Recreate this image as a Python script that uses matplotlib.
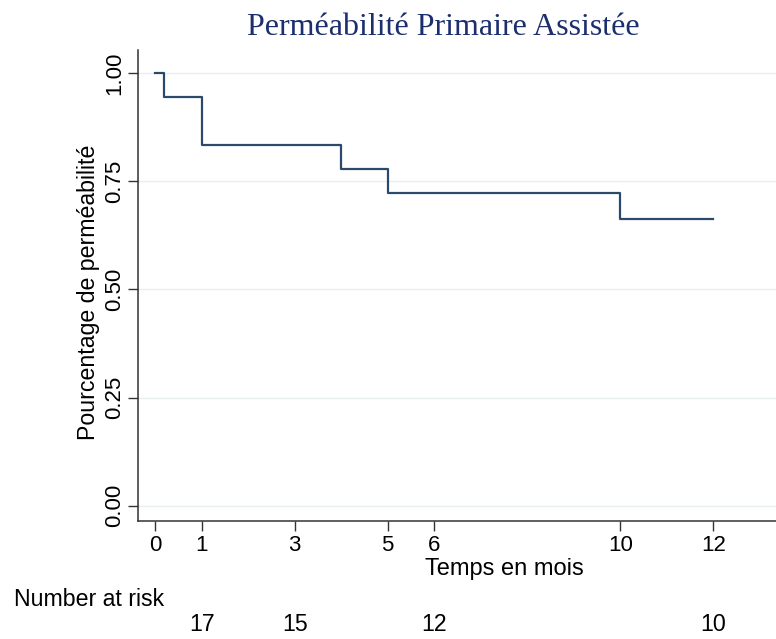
import matplotlib
matplotlib.use('Agg')
import matplotlib.pyplot as plt
import matplotlib.transforms as mtransforms

# survival curve (Kaplan-Meier steps)
times = [0, 0.2, 1, 4, 5, 10, 12]
surv = [1.0, 0.944, 0.833, 0.778, 0.722, 0.662, 0.662]

xticks = [0, 1, 3, 5, 6, 10, 12]
yticks = [0.0, 0.25, 0.50, 0.75, 1.00]

risk_times = [1, 3, 6, 12]
risk_counts = [17, 15, 12, 10]

plt.rcParams['font.family'] = ['Liberation Sans', 'DejaVu Sans']

fig = plt.figure(figsize=(7.76, 6.39), dpi=100)
ax = fig.add_axes([0.1778, 0.1847, 0.8222, 0.7371])

ax.step(times, surv, where='post', color='#2b4a6b', lw=1.6)

ax.set_xlim(-0.37, 13.35)
ax.set_ylim(-0.035, 1.053)
ax.set_xticks(xticks)
ax.set_yticks(yticks)
ax.set_yticklabels(['%.2f' % v for v in yticks], rotation=90, va='center')
ax.tick_params(axis='both', labelsize=16, length=7, width=1, color='#333333')
ax.tick_params(axis='x', pad=3)
ax.tick_params(axis='y', pad=2)

ax.grid(axis='y', color='#e8eff0', lw=1)
ax.set_axisbelow(True)
for s in ['top', 'right']:
    ax.spines[s].set_visible(False)
for s in ['left', 'bottom']:
    ax.spines[s].set_color('#333333')
    ax.spines[s].set_linewidth(1.1)

ax.set_xlabel('Temps en mois', fontsize=17)
ax.xaxis.set_label_coords(0.575, -0.103)
ax.xaxis.label.set_va('center')
ax.set_ylabel('Pourcentage de perméabilité', fontsize=16.7)
ax.yaxis.set_label_coords(-0.078, 0.486)
ax.yaxis.label.set_va('center')

fig.text(0.571, 0.957, 'Perméabilité Primaire Assistée', ha='center', va='center',
         fontsize=23, color='#1b2f6e', family=['Liberation Serif', 'DejaVu Serif'])

# number at risk table
fig.text(0.018, 0.062, 'Number at risk', fontsize=16.7, va='center')
trans = mtransforms.blended_transform_factory(ax.transData, fig.transFigure)
for t, n in zip(risk_times, risk_counts):
    ax.text(t, 0.022, str(n), transform=trans, ha='center', va='center', fontsize=16.7)

fig.savefig('out.png', dpi=100)
